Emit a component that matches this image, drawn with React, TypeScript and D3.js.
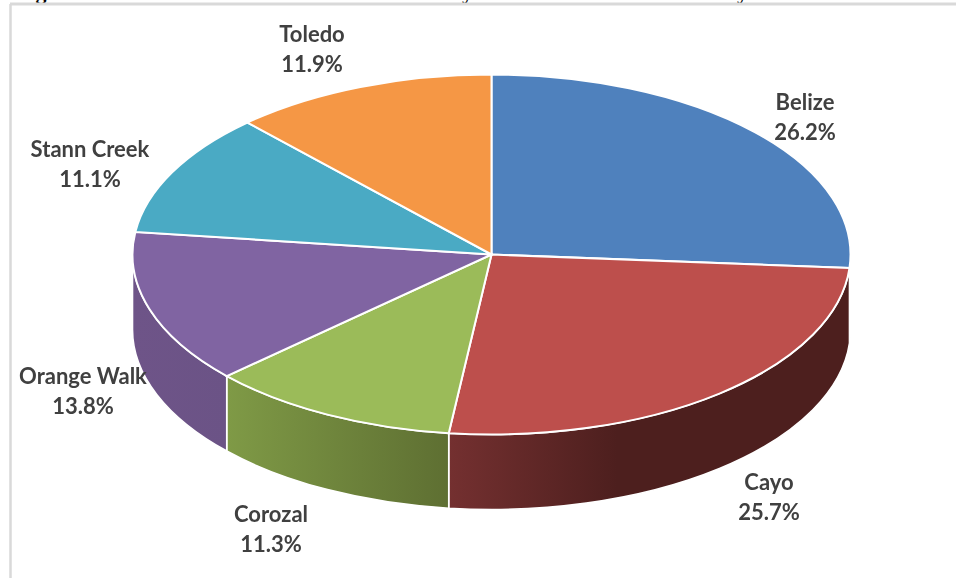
import React from "react";
import * as d3 from "d3";

// share of each district, percent
const districts = ["Belize", "Cayo", "Corozal", "Orange Walk", "Stann Creek", "Toledo"];
const shares = [26.2, 25.7, 11.3, 13.8, 11.1, 11.9];
const topColors = ["#4f81bd", "#bd4f4c", "#9bbb59", "#8064a2", "#4aaac4", "#f59745"];
// wall gradient, left colour then right colour
const wallLeft = ["#38597f", "#743030", "#7f9a46", "#6e5488", "#31717f", "#a6632c"];
const wallRight = ["#38597f", "#4d1f1e", "#5e6f32", "#6b5386", "#31717f", "#a6632c"];
// label centres (x, y of the first line)
const labelX = [805, 769, 271, 83, 90, 312];
const labelY = [101, 481, 513, 375, 148, 33];

const W = 956;
const H = 578;
const cx = 491.5;
const cy = 254.5;
const rx = 359;
const ry = 180;
const depth = 75;

const color = d3.scaleOrdinal<string, string>().domain(districts).range(topColors);
const pie = d3.pie<number>().sort(null);
const slices = pie(shares);
const arc = d3.arc<d3.PieArcDatum<number>>().innerRadius(0).outerRadius(rx);

const px = (a: number) => cx + rx * Math.sin(a);
const py = (a: number) => cy - ry * Math.cos(a);

// front wall of a slice, only the part facing the viewer
function wallPath(start: number, end: number) {
  const a0 = Math.max(start, Math.PI / 2);
  const a1 = Math.min(end, (3 * Math.PI) / 2);
  if (a1 <= a0) return null;
  return (
    `M${px(a0)},${py(a0)}` +
    `A${rx},${ry} 0 0 1 ${px(a1)},${py(a1)}` +
    `L${px(a1)},${py(a1) + depth}` +
    `A${rx},${ry} 0 0 0 ${px(a0)},${py(a0) + depth}Z`
  );
}

function wallBounds(start: number, end: number) {
  const a0 = Math.max(start, Math.PI / 2);
  const a1 = Math.min(end, (3 * Math.PI) / 2);
  return [Math.min(px(a0), px(a1)), Math.max(px(a0), px(a1))];
}

export default function App() {
  return (
    <svg width={W} height={H} style={{ position: "absolute", left: 0, top: 0, background: "#fff" }}>
      <defs>
        {slices.map((s, i) => {
          const [x0, x1] = wallBounds(s.startAngle, s.endAngle);
          return (
            <linearGradient key={i} id={`wall${i}`} gradientUnits="userSpaceOnUse" x1={x0} x2={x1} y1={0} y2={0}>
              <stop offset="0" stopColor={wallLeft[i]} />
              <stop offset={i === 1 ? 0.42 : 1} stopColor={wallRight[i]} />
            </linearGradient>
          );
        })}
        <filter id="soft">
          <feGaussianBlur stdDeviation="0.4" />
        </filter>
      </defs>

      {/* cut off caption above the frame */}
      <g fontFamily="'Liberation Serif', serif" fontWeight="bold" fontSize={22} fill="#000">
        <text x={16} y={-1}>Fig</text>
        <text x={462} y={-1}>y</text>
        <text x={737} y={-1}>y</text>
      </g>

      {/* frame */}
      <line x1={10} x2={956} y1={4} y2={4} stroke="#d9d9d9" strokeWidth={3} />
      <line x1={10.5} x2={10.5} y1={4} y2={578} stroke="#d9d9d9" strokeWidth={2.5} />

      <g stroke="#fff" strokeWidth={1.6}>
        {slices.map((s, i) => {
          const d = wallPath(s.startAngle, s.endAngle);
          return d ? <path key={i} d={d} fill={`url(#wall${i})`} /> : null;
        })}
      </g>

      <g transform={`translate(${cx},${cy}) scale(1,${ry / rx})`}>
        {slices.map((s, i) => (
          <path
            key={i}
            d={arc(s) as string}
            fill={color(districts[i])}
            stroke="#fff"
            strokeWidth={2}
            vectorEffect="non-scaling-stroke"
          />
        ))}
      </g>

      <g
        fontFamily="Lato, 'Open Sans', sans-serif"
        fontWeight="bold"
        fontSize={22}
        fill="#404040"
        textAnchor="middle"
        filter="url(#soft)"
      >
        {districts.map((name, i) => (
          <g key={name}>
            <text x={labelX[i]} y={labelY[i] + 1} dy="0.35em">{name}</text>
            <text x={labelX[i]} y={labelY[i] + 31} dy="0.35em">{d3.format(".1f")(shares[i])}%</text>
          </g>
        ))}
      </g>
    </svg>
  );
}
